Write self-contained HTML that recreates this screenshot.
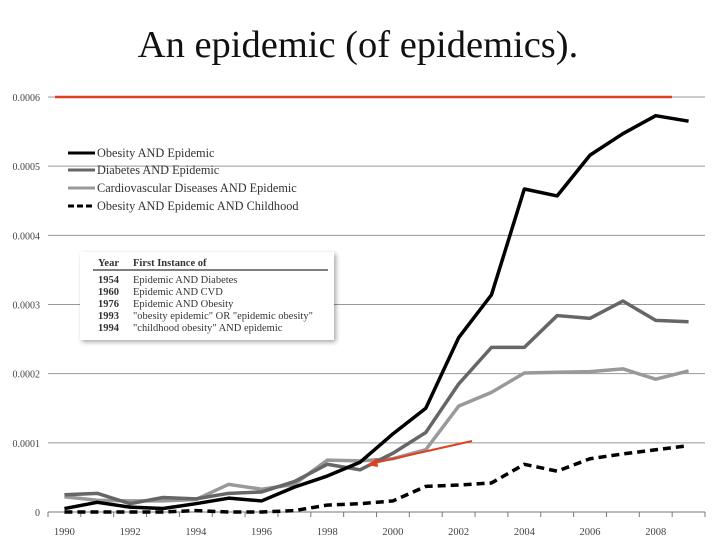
<!DOCTYPE html>
<html><head><meta charset="utf-8"><style>
body{margin:0;background:#fff;}
svg text{font-family:"Liberation Serif",serif;}
</style></head><body>
<svg width="728" height="546" viewBox="0 0 728 546" xmlns="http://www.w3.org/2000/svg">
<defs><filter id="sh" x="-10%" y="-10%" width="130%" height="130%"><feDropShadow dx="2" dy="2" stdDeviation="2.5" flood-color="#000" flood-opacity="0.35"/></filter></defs>
<text x="358" y="57" text-anchor="middle" font-size="38.5" fill="#111">An epidemic (of epidemics).</text>
<g id="grid"></g>
<g id="axes"></g>
<g id="series"></g>
<line x1="55" y1="97" x2="672" y2="97" stroke="#e0401f" stroke-width="2.5"/>
<g>
<line x1="472" y1="441" x2="374" y2="463" stroke="#e0401f" stroke-width="2"/>
<polygon points="367,465 377,458 378,467" fill="#e0401f"/>
</g>
<g font-size="12.3" fill="#333">
<g><line x1="68" y1="153" x2="95" y2="153" stroke="#000" stroke-width="3"/><text x="97" y="157">Obesity AND Epidemic</text></g>
<g><line x1="68" y1="170" x2="95" y2="170" stroke="#666" stroke-width="3"/><text x="97" y="174">Diabetes AND Epidemic</text></g>
<g><line x1="68" y1="188" x2="95" y2="188" stroke="#999" stroke-width="3"/><text x="97" y="192">Cardiovascular Diseases AND Epidemic</text></g>
<g><line x1="68" y1="206" x2="95" y2="206" stroke="#000" stroke-width="3" stroke-dasharray="6,3"/><text x="97" y="210">Obesity AND Epidemic AND Childhood</text></g>
</g>
<g font-size="10.5" fill="#333">
<rect x="80" y="252" width="254" height="88" fill="#fff" filter="url(#sh)"/>
<text x="98" y="266" font-weight="bold">Year</text><text x="133" y="266" font-weight="bold">First Instance of</text>
<line x1="93" y1="270" x2="328" y2="270" stroke="#000" stroke-width="1"/>
<text x="98" y="283" font-weight="bold">1954</text><text x="133" y="283">Epidemic AND Diabetes</text>
<text x="98" y="295" font-weight="bold">1960</text><text x="133" y="295">Epidemic AND CVD</text>
<text x="98" y="307" font-weight="bold">1976</text><text x="133" y="307">Epidemic AND Obesity</text>
<text x="98" y="319" font-weight="bold">1993</text><text x="133" y="319">"obesity epidemic" OR "epidemic obesity"</text>
<text x="98" y="331" font-weight="bold">1994</text><text x="133" y="331">"childhood obesity" AND epidemic</text>
</g>
</svg>
<script>
const years=[1990,1991,1992,1993,1994,1995,1996,1997,1998,1999,2000,2001,2002,2003,2004,2005,2006,2007,2008,2009];
const obesity=[0.000005,0.000014,0.000007,0.000005,0.000012,0.00002,0.000016,0.000036,0.000052,0.000072,0.000113,0.00015,0.000252,0.000314,0.000467,0.000457,0.000516,0.000547,0.000573,0.000565];
const diabetes=[0.000025,0.000027,0.000012,0.000021,0.000019,0.000027,0.000029,0.000044,0.000069,0.000061,0.000085,0.000115,0.000185,0.000238,0.000238,0.000284,0.00028,0.000305,0.000277,0.000275];
const cvd=[0.000022,0.000017,0.000016,0.000016,0.000018,0.00004,0.000033,0.00004,0.000075,0.000074,0.000077,0.00009,0.000153,0.000173,0.000201,0.000202,0.000203,0.000207,0.000192,0.000204];
const childhood=[0,0,0,0,0.000002,0,0,0.000002,0.00001,0.000012,0.000016,0.000037,0.000039,0.000042,0.000069,0.000059,0.000077,0.000084,0.00009,0.000096];
const yTicks=[0,0.0001,0.0002,0.0003,0.0004,0.0005,0.0006];
const yTickLabels=["0","0.0001","0.0002","0.0003","0.0004","0.0005","0.0006"];
const NS="http://www.w3.org/2000/svg";
const L=48,R=705,T=97,B=512,yMax=0.0006;
const bw=(R-L)/years.length;
const x=i=>L+bw*(i+0.5);
const y=v=>B-(v/yMax)*(B-T);
function mk(t,a,p){const e=document.createElementNS(NS,t);for(const k in a)e.setAttribute(k,a[k]);p.appendChild(e);return e;}
const grid=document.getElementById('grid'),axes=document.getElementById('axes'),ser=document.getElementById('series');
yTicks.forEach((v,i)=>{
 if(v>0){const g=mk('line',{x1:L,x2:R,y1:y(v),y2:y(v),stroke:'#999','stroke-width':1},grid);
 
 }
 const t=mk('text',{x:40,y:y(v)+4,'text-anchor':'end','font-size':'10',fill:'#444'},axes);t.textContent=yTickLabels[i];
 
 
});
const ax=mk('line',{x1:L,x2:R,y1:B,y2:B,stroke:'#777','stroke-width':1},axes);


for(let i=0;i<=years.length;i++){mk('line',{x1:L+bw*i,x2:L+bw*i,y1:B,y2:B+5,stroke:'#777'},axes);}
years.forEach((yr,i)=>{if(i%2===0){const t=mk('text',{x:x(i),y:B+23,'text-anchor':'middle','font-size':'10.5',fill:'#444'},axes);t.textContent=yr;
 
 }});
function line(data,color,dash,name){
 const p=mk('polyline',{points:data.map((v,i)=>x(i)+','+y(v)).join(' '),fill:'none',stroke:color,'stroke-width':3.5,'stroke-linejoin':'round'},ser);
 if(dash)p.setAttribute('stroke-dasharray',dash);
 
 
}
line(cvd,'#999',null,'series-cvd');
line(diabetes,'#666',null,'series-diabetes');
line(obesity,'#000',null,'series-obesity');
line(childhood,'#000','8,5','series-childhood');
</script>
</body></html>
